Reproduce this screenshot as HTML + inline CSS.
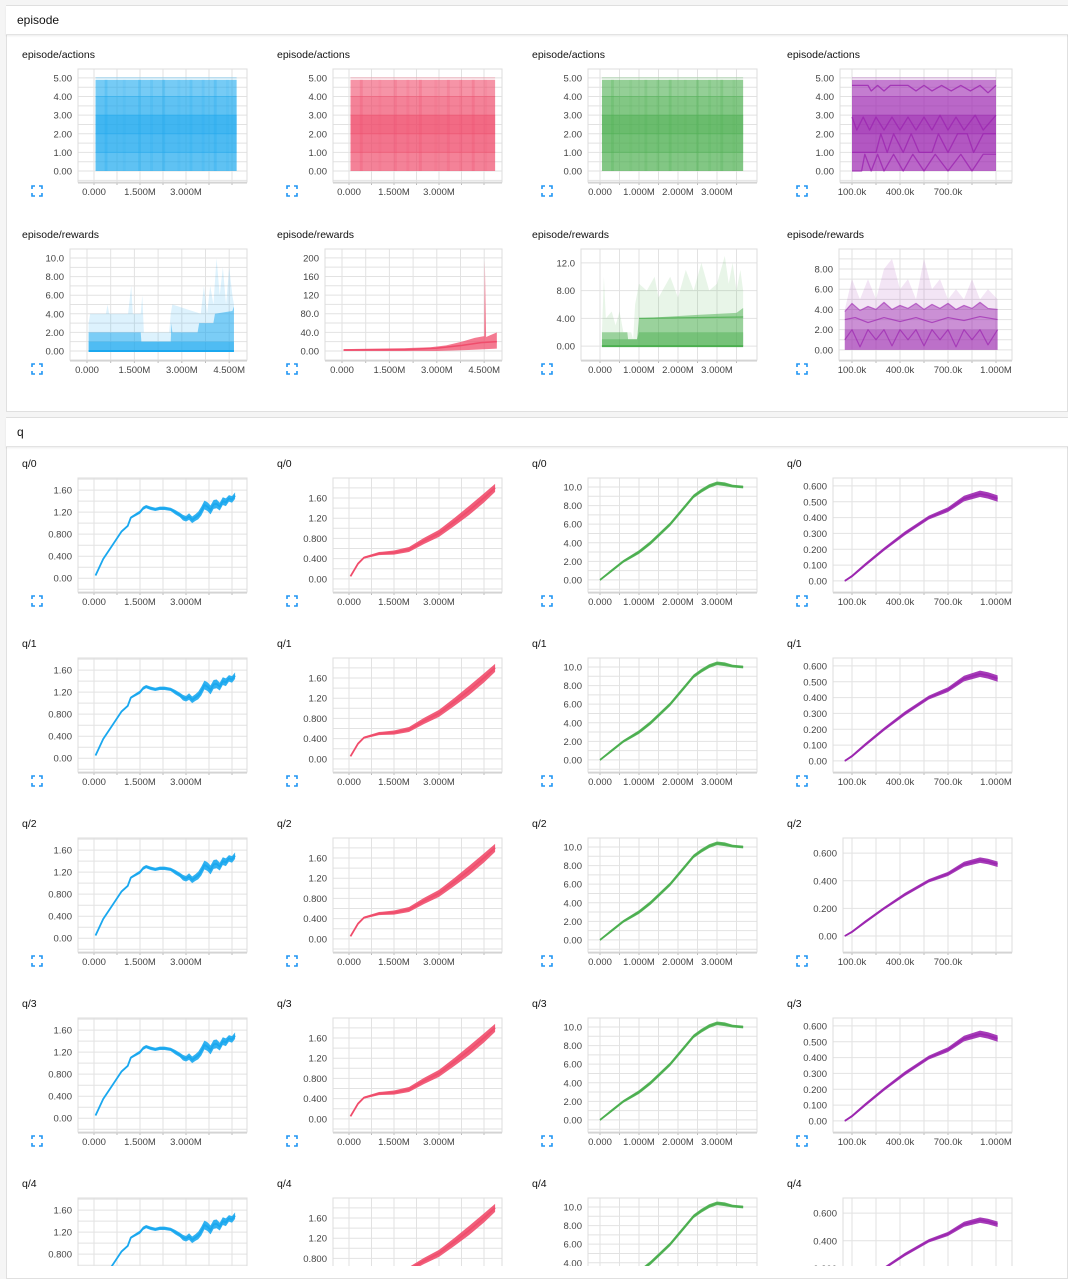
<!DOCTYPE html>
<html><head><meta charset="utf-8">
<style>
html,body{margin:0;padding:0;width:1068px;height:1266px;overflow:hidden;background:#f5f5f5;font-family:"Liberation Sans",Arial,sans-serif;}
.card{position:absolute;left:6px;right:0;background:#fff;border:1px solid #e0e0e0;}
.hdr{position:absolute;left:6px;right:0;height:28px;background:#fff;border-bottom:1px solid #e3e3e3;box-shadow:0 1px 2px rgba(0,0,0,.08);font-size:12px;line-height:28px;padding-left:11px;color:#111;}
svg{position:absolute;left:0;top:0;}
</style></head><body>
<div class="card" style="top:5px;height:405px;"></div>
<div class="hdr" style="top:6px;">episode</div>
<div class="card" style="top:417px;height:860px;"></div>
<div class="hdr" style="top:418px;">q</div>
<svg id="s" width="1068" height="1266"></svg>
<script>
// ---- data ----
const colColors = ["#1aa8ef","#f04d6c","#4caf50","#9c27b0"];
const colNames = ["blue","red","green","purple"];
const actXRange = [[0.05,4.65],[0.05,4.87],[0.05,3.67],[0.1,1.0]];
const actBandLo = [0,0,1,2];
const actBandHi = [4.9,4.0,3.0,3.0];
const actLevels = [1,2,3,4,5];
const actStreaks = [[0.3,0.5],[0.9,0.2],[1.4,0.4],[1.8,0.3],[2.2,0.5],[2.7,0.2],[3.1,0.4],[3.5,0.3],[3.9,0.5],[4.3,0.2]];
const actPurpleLine1 = [[0.1,4.6],[0.2,4.6],[0.22,4.3],[0.26,4.6],[0.3,4.3],[0.34,4.6],[0.45,4.6],[0.5,4.3],[0.55,4.6],[0.6,4.3],[0.66,4.6],[0.72,4.3],[0.78,4.6],[0.84,4.3],[0.9,4.6],[0.95,4.2],[1.0,4.6]];
const actPurpleLine2 = [[0.1,2.9],[0.13,2.2],[0.17,2.9],[0.21,2.2],[0.25,2.9],[0.3,2.2],[0.35,2.9],[0.4,2.2],[0.45,2.9],[0.5,2.2],[0.55,2.9],[0.6,2.2],[0.65,3.0],[0.7,2.2],[0.75,2.9],[0.8,2.2],[0.87,3.0],[0.92,2.2],[1.0,3.0]];
const actPurpleLine3 = [[0.1,1.0],[0.25,1.0],[0.28,2.0],[0.32,1.0],[0.36,2.0],[0.42,1.0],[0.47,2.0],[0.52,1.0],[0.6,1.0],[0.64,2.0],[0.7,1.0],[0.76,2.0],[0.82,2.0],[0.86,1.0],[0.92,2.0],[1.0,2.0]];
const actPurpleLine4 = [[0.1,0.0],[0.16,0.0],[0.18,0.9],[0.22,0.0],[0.26,0.9],[0.3,0.0],[0.36,0.9],[0.42,0.0],[0.48,0.9],[0.55,0.0],[0.62,0.9],[0.7,0.0],[0.78,0.9],[0.85,0.0],[0.92,0.9],[1.0,0.9]];

const rw0Light = [[0.05,3],[0.1,4],[0.6,4],[0.65,5],[0.7,4],[1.3,4],[1.4,7],[1.45,4],[1.7,4],[1.75,6],[1.8,2],[2.6,2],[2.65,4],[2.7,5],[3.6,4],[3.7,7],[3.8,4],[3.9,7],[4.0,5],[4.1,10],[4.2,6],[4.3,9],[4.4,5],[4.5,9],[4.6,6],[4.65,5]];
const rw0Mid = [[0.05,2],[1.7,2],[1.72,1],[2.65,1],[2.67,3],[2.7,2],[3.5,2],[3.55,3],[4.0,3],[4.05,4],[4.6,4.3],[4.65,4.8]];
const rw0Dark = [[0.05,1],[4.65,1]];
const rw1Hi = [[0.05,4],[1,5],[2,6],[2.8,8],[3.3,12],[3.8,20],[4.2,28],[4.5,32],[4.52,195],[4.56,30],[4.9,40]];
const rw1Mid = [[0.05,2],[1,2.5],[2,3],[3,6],[3.8,12],[4.4,18],[4.9,20]];
const rw1Lo = [[0.05,0],[3,0],[4,2],[4.9,5]];
const rw2Light = [[0.05,2],[0.1,10],[0.15,4],[0.3,5],[0.4,3],[0.5,5],[0.6,2],[0.8,2],[0.85,1],[0.9,6],[1.0,9],[1.2,8],[1.4,10],[1.5,7],[1.8,10],[2.0,7],[2.2,11],[2.4,8],[2.6,12],[2.8,8],[3.0,9],[3.2,13],[3.3,9],[3.4,12],[3.5,8],[3.6,11],[3.67,8]];
const rw2Mid = [[0.05,2],[0.7,2],[0.72,1],[0.95,1],[1.0,4],[1.6,4.2],[2.5,4.5],[3.5,4.8],[3.67,5.5]];
const rw2Dark = [[0.05,1],[0.95,1],[1.0,2],[3.67,2]];
const rw3Light = [[0.055,4],[0.1,7],[0.15,5],[0.2,7],[0.25,5],[0.3,8],[0.35,9],[0.4,6],[0.45,7],[0.5,5],[0.55,9],[0.6,6],[0.65,7],[0.7,5],[0.75,6],[0.8,5],[0.85,7],[0.9,5],[0.95,6],[1.01,5]];
const rw3Mid = [[0.055,3.8],[0.1,4.6],[0.15,3.9],[0.2,4.3],[0.25,4.0],[0.3,4.7],[0.35,4.0],[0.4,4.4],[0.45,4.1],[0.5,4.6],[0.55,4.0],[0.6,4.5],[0.65,4.1],[0.7,4.6],[0.75,4.0],[0.8,4.4],[0.85,4.1],[0.9,4.7],[0.95,4.1],[1.01,4.0]];
const rw3Line1 = [[0.055,3],[0.12,3.2],[0.2,2.7],[0.3,3.2],[0.4,2.8],[0.5,3.2],[0.6,2.7],[0.7,3.2],[0.8,2.9],[0.9,3.3],[1.01,3]];
const rw3Line2 = [[0.055,1],[0.1,2],[0.15,0.3],[0.2,2],[0.25,1],[0.3,2],[0.35,0.4],[0.4,2],[0.45,1],[0.5,2],[0.55,0.4],[0.6,2],[0.65,1],[0.7,2],[0.75,0.3],[0.8,2],[0.85,1],[0.9,2],[0.95,0.5],[1.01,2]];

const q0 = [[0.05,0.05],[0.3,0.35],[0.6,0.6],[0.9,0.85],[1.1,0.95],[1.2,1.1],[1.5,1.2],[1.6,1.27],[1.7,1.3],[1.85,1.27],[2,1.25],[2.15,1.27],[2.3,1.27],[2.5,1.25],[2.65,1.2],[2.8,1.15],[2.9,1.1],[3.0,1.08],[3.1,1.12],[3.2,1.06],[3.3,1.1],[3.4,1.14],[3.5,1.22],[3.6,1.33],[3.7,1.3],[3.8,1.24],[3.9,1.34],[4.0,1.35],[4.1,1.3],[4.2,1.4],[4.3,1.38],[4.4,1.45],[4.5,1.43],[4.6,1.5]];
const q0Spread = [0.01,0.02,0.02,0.02,0.02,0.02,0.03,0.03,0.03,0.03,0.03,0.03,0.03,0.03,0.04,0.04,0.05,0.05,0.06,0.06,0.06,0.07,0.08,0.08,0.08,0.08,0.08,0.08,0.07,0.07,0.07,0.06,0.06,0.06];
const q1 = [[0.05,0.05],[0.3,0.3],[0.5,0.42],[1.0,0.5],[1.5,0.52],[2.0,0.58],[2.5,0.75],[3.0,0.9],[3.5,1.12],[4.0,1.35],[4.5,1.6],[4.87,1.8]];
const q1Spread = [0.01,0.02,0.02,0.03,0.04,0.05,0.06,0.07,0.08,0.09,0.09,0.08];
const q2 = [[0.0,0.0],[0.3,1.0],[0.6,2.0],[1.0,3.0],[1.3,4.0],[1.6,5.2],[1.8,6.0],[2.0,7.0],[2.2,8.0],[2.4,9.0],[2.6,9.6],[2.8,10.1],[3.0,10.4],[3.2,10.3],[3.4,10.1],[3.67,10.0]];
const q2Spread = [0.1,0.15,0.15,0.2,0.2,0.2,0.2,0.2,0.2,0.2,0.2,0.2,0.2,0.2,0.15,0.15];
const q3 = [[0.055,0.0],[0.1,0.03],[0.18,0.1],[0.3,0.2],[0.43,0.3],[0.58,0.4],[0.7,0.45],[0.8,0.52],[0.9,0.55],[0.95,0.54],[1.01,0.52]];
const q3Spread = [0.005,0.008,0.01,0.01,0.012,0.012,0.015,0.018,0.02,0.02,0.02];

const tickX01 = [0,0.75,1.5,2.25,3,3.75,4.5];
const labX01 = ["0.000","1.500M","3.000M"];
const labX01r = ["0.000","1.500M","3.000M","4.500M"];
const labX01v = [0,1.5,3];
const labX01rv = [0,1.5,3,4.5];
const tickX2 = [0,0.5,1,1.5,2,2.5,3,3.5];
const labX2 = ["0.000","1.000M","2.000M","3.000M"];
const labX2v = [0,1,2,3];
const tickX3 = [0.1,0.25,0.4,0.55,0.7,0.85,1.0];
const labX3 = ["100.0k","400.0k","700.0k"];
const labX3v = [0.1,0.4,0.7];
const labX3r = ["100.0k","400.0k","700.0k","1.000M"];
const labX3rv = [0.1,0.4,0.7,1.0];

const tickYact = [0,1,2,3,4,5];
const labYact = ["0.00","1.00","2.00","3.00","4.00","5.00"];
const tickYrw0 = [0,2,4,6,8,10];
const labYrw0 = ["0.00","2.00","4.00","6.00","8.00","10.0"];
const tickYrw1 = [0,40,80,120,160,200];
const labYrw1 = ["0.00","40.0","80.0","120","160","200"];
const tickYrw2 = [0,4,8,12];
const labYrw2 = ["0.00","4.00","8.00","12.0"];
const tickYrw3 = [0,2,4,6,8];
const labYrw3 = ["0.00","2.00","4.00","6.00","8.00"];
const tickYq0 = [0,0.4,0.8,1.2,1.6];
const labYq0 = ["0.00","0.400","0.800","1.20","1.60"];
const tickYq2 = [0,2,4,6,8,10];
const labYq2 = ["0.00","2.00","4.00","6.00","8.00","10.0"];
const tickYq3 = [0,0.1,0.2,0.3,0.4,0.5,0.6];
const labYq3 = ["0.00","0.100","0.200","0.300","0.400","0.500","0.600"];
const tickYq3b = [0,0.2,0.4,0.6];
const labYq3b = ["0.00","0.200","0.400","0.600"];

// ---- rendering ----
const NS="http://www.w3.org/2000/svg";
const svg=document.getElementById('s');
function mk(tag,attrs,parent){const e=document.createElementNS(NS,tag);for(const k in attrs)e.setAttribute(k,attrs[k]);(parent||svg).appendChild(e);return e;}
let clipId=0;
function chart(c){
  const L=c.colX+c.left,R=c.colX+247,T=c.top,B=c.top+c.h;
  let sx;
  if(c.anchor){const an=c.anchor;sx=v=>c.colX+an.px+(v-an.v)*an.ppu;}
  else sx=v=>L+(v-c.xmin)/(c.xmax-c.xmin)*(R-L);
  const sy=v=>B-(v-c.ymin)/(c.ymax-c.ymin)*(B-T);
  const g=mk('g',{});
  
  
  const t=mk('text',{x:c.colX+22,y:T-11,'font-size':10.5,fill:'#111'},g);t.textContent=c.title;
  
  
  const step=c.yt[1]-c.yt[0];const gs=c.minor?step/2:step;
  for(let v=c.yt[0];v<=c.ymax;v+=gs){const y=sy(v);mk('line',{x1:L,x2:R,y1:y,y2:y,stroke:'#e2e2e2','stroke-width':1},g);}
  for(let v=c.yt[0]-gs;v>c.ymin;v-=gs){const y=sy(v);mk('line',{x1:L,x2:R,y1:y,y2:y,stroke:'#e2e2e2'},g);}
  c.xt.forEach(v=>{const x=sx(v);if(x<L||x>R)return;mk('line',{x1:x,x2:x,y1:T,y2:B,stroke:'#e2e2e2'},g);mk('line',{x1:x,x2:x,y1:B,y2:B+3,stroke:'#bbb'},g);});
  mk('rect',{x:L,y:T,width:R-L,height:B-T,fill:'none',stroke:'#ddd'},g);
  mk('line',{x1:L,x2:R,y1:B+1,y2:B+1,stroke:'#ccc'},g);
  c.yt.forEach((v,i)=>{const tx=mk('text',{x:L-6,y:sy(v)+3.5,'font-size':9.5,fill:'#444','text-anchor':'end'},g);tx.textContent=c.yl[i];
    });
  c.xlv.forEach((v,i)=>{const tx=mk('text',{x:sx(v),y:B+13,'font-size':9.5,fill:'#444','text-anchor':'middle'},g);tx.textContent=c.xl[i];
    });
  const ix=c.colX+32,iy=B+4;
  const ic=mk('path',{d:`M${ix} ${iy+3}V${iy}H${ix+3}M${ix+7} ${iy}H${ix+10}V${iy+3}M${ix+10} ${iy+7}V${iy+10}H${ix+7}M${ix+3} ${iy+10}H${ix}V${iy+7}`,fill:'none',stroke:'#2196f3','stroke-width':1.6},g);
  
  
  clipId++;
  const cp=mk('clipPath',{id:'c'+clipId},g);mk('rect',{x:L,y:T,width:R-L,height:B-T},cp);
  const dg=mk('g',{'clip-path':`url(#c${clipId})`},g);
  const api={
    band(hi,lo,op){let d='M'+hi.map(p=>sx(p[0])+' '+sy(p[1])).join('L');
      if(typeof lo==='number'){d+=`L${sx(hi[hi.length-1][0])} ${sy(lo)}L${sx(hi[0][0])} ${sy(lo)}Z`;}
      else d+='L'+lo.slice().reverse().map(p=>sx(p[0])+' '+sy(p[1])).join('L')+'Z';
      const p=mk('path',{d,fill:c.color,'fill-opacity':op},dg);},
    line(pts,w,op){const p=mk('path',{d:'M'+pts.map(q=>sx(q[0])+' '+sy(q[1])).join('L'),fill:'none',stroke:c.color,'stroke-width':w,'stroke-opacity':op,'stroke-linejoin':'round'},dg);},
    spread(pts,sp){const hi=pts.map((p,i)=>[p[0],p[1]+sp[i]]),lo=pts.map((p,i)=>[p[0],p[1]-sp[i]]);api.band(hi,lo,0.9);api.line(pts,1.8,1);}
  };
  return api;
}
const colX=[0,255,510,765];
// x-axis anchors per column: value v sits at column pixel px, ppu pixels per 1M
const xAnchor=[{v:0,px:94,ppu:30.67},{v:0,px:94,ppu:30},{v:0,px:90,ppu:39},{v:0.1,px:87,ppu:160}];
const rwAnchor=[{v:0,px:87,ppu:31.6},{v:0,px:87,ppu:31.6},{v:0,px:90,ppu:39},{v:0.1,px:87,ppu:160}];
const xCfg=[
 {xt:tickX01,xl:labX01,xlv:labX01v,xlr:labX01r,xlrv:labX01rv},
 {xt:tickX01,xl:labX01,xlv:labX01v,xlr:labX01r,xlrv:labX01rv},
 {xt:tickX2,xl:labX2,xlv:labX2v,xlr:labX2,xlrv:labX2v},
 {xt:tickX3,xl:labX3,xlv:labX3v,xlr:labX3r,xlrv:labX3rv}];
// actions
for(let i=0;i<4;i++){
  const x=xCfg[i];
  const a=chart({name:'actions-chart-'+colNames[i],title:'episode/actions',colX:colX[i],left:i==3?75:78,top:69,h:113,color:colColors[i],anchor:xAnchor[i],
    xt:x.xt,xl:x.xl,xlv:x.xlv,ymin:-0.59,ymax:5.48,yt:tickYact,yl:labYact,minor:true});
  const r=actXRange[i];
  for(let b=0;b<actBandLo.length;b++){a.band([[r[0],actBandHi[b]],[r[1],actBandHi[b]]],actBandLo[b],b==0?0.6:0.25);}
  actLevels.forEach(v=>a.line([[r[0],v],[r[1],v]],1,0.4));
  if(i<3){const span=r[1]-r[0];actStreaks.forEach(s=>{const xv=r[0]+span*s[0]/4.65;a.band([[xv,4.9],[xv+span*0.02,4.9]],0,s[1]*0.5);});}
  if(i==3){[actPurpleLine1,actPurpleLine2,actPurpleLine3,actPurpleLine4].forEach(l=>a.line(l,1.3,0.8));}
}
// rewards
const rwY=[{ymin:-0.97,ymax:10.97,yt:tickYrw0,yl:labYrw0,left:70},{ymin:-19.4,ymax:219,yt:tickYrw1,yl:labYrw1,left:70},{ymin:-2.0,ymax:14.0,yt:tickYrw2,yl:labYrw2,left:71},{ymin:-1,ymax:9.98,yt:tickYrw3,yl:labYrw3,left:74}];
for(let i=0;i<4;i++){
  const x=xCfg[i],y=rwY[i];
  const a=chart({name:'rewards-chart-'+colNames[i],title:'episode/rewards',colX:colX[i],left:y.left,top:249,h:111,color:colColors[i],anchor:rwAnchor[i],
    xt:x.xt,xl:x.xlr,xlv:x.xlrv,ymin:y.ymin,ymax:y.ymax,yt:y.yt,yl:y.yl,minor:i!=2});
  if(i==0){a.band(rw0Light,0,0.15);a.band(rw0Mid,0,0.5);a.band(rw0Dark,0,0.45);a.line([[0.05,0],[4.65,0]],2,1);}
  if(i==1){a.band(rw1Hi,rw1Lo,0.75);a.line(rw1Mid,1.5,1);}
  if(i==2){a.band(rw2Light,0,0.13);a.band(rw2Mid,0,0.5);a.band(rw2Dark,0,0.45);a.line([[0.05,0],[3.67,0]],2,1);a.line([[1.0,4],[3.67,4.2]],1.2,0.8);}
  if(i==3){a.band(rw3Light,0,0.12);a.band(rw3Mid,0,0.45);a.line(rw3Mid,1.2,0.6);a.line(rw3Line1,1.2,0.7);a.line(rw3Line2,1.2,0.7);a.band([[0.055,2],[1.01,2]],0,0.3);}
}
// q charts
const qY=[{ymin:-0.25,ymax:1.82,yt:tickYq0,yl:labYq0,left:78,data:q0,sp:q0Spread},
          {ymin:-0.26,ymax:1.995,yt:tickYq0,yl:labYq0,left:78,data:q1,sp:q1Spread},
          {ymin:-1.3,ymax:10.97,yt:tickYq2,yl:labYq2,left:78,data:q2,sp:q2Spread},
          {ymin:-0.07,ymax:0.65,yt:tickYq3,yl:labYq3,left:68,data:q3,sp:q3Spread}];
for(let r=0;r<5;r++){
  const top=478+180*r;
  for(let i=0;i<4;i++){
    const x=xCfg[i];let y=qY[i];
    let yt=y.yt,yl=y.yl,ymin=y.ymin,ymax=y.ymax,xl=(i==3?x.xlr:x.xl),xlv=(i==3?x.xlrv:x.xlv),left=y.left;
    if(i==3&&(r==2||r==4)){yt=tickYq3b;yl=labYq3b;ymin=-0.116;ymax=0.71;left=78;}
    if(i==3&&r==2){xl=x.xl;xlv=x.xlv;}
    const a=chart({name:`q${r}-chart-`+colNames[i],title:'q/'+r,colX:colX[i],left,top,h:114,color:colColors[i],anchor:xAnchor[i],
      xt:x.xt,xl,xlv,ymin,ymax,yt,yl,minor:i!=3});
    a.spread(y.data,y.sp);
  }
}
</script>
</body></html>
